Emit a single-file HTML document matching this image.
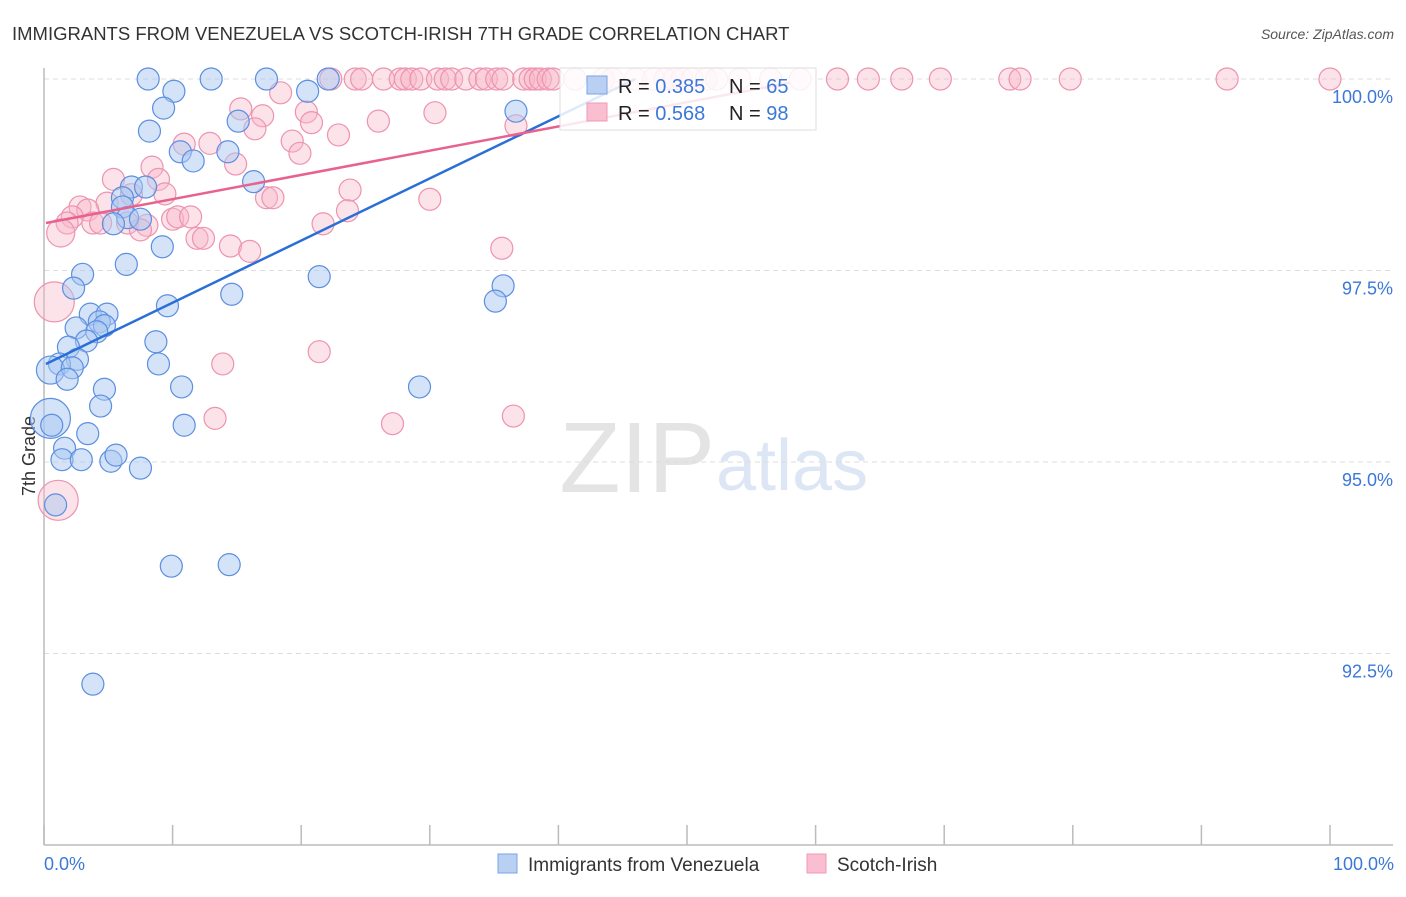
<!DOCTYPE html>
<html><head><meta charset="utf-8"><style>
body{margin:0;background:#fff;font-family:"Liberation Sans",sans-serif;}
svg text{font-family:"Liberation Sans",sans-serif;}
</style></head><body>
<svg width="1406" height="892" viewBox="0 0 1406 892">
<text x="12" y="40" font-size="18.5" fill="#333">IMMIGRANTS FROM VENEZUELA VS SCOTCH-IRISH 7TH GRADE CORRELATION CHART</text>
<text x="1394" y="39" font-size="14" fill="#555" font-style="italic" text-anchor="end">Source: ZipAtlas.com</text>
<text x="715" y="492" font-size="100" fill="#e4e4e4" text-anchor="end" font-family="Liberation Serif">ZIP</text>
<text x="716" y="490" font-size="72" fill="#dce6f5">atlas</text>
<g id="grid"></g>
<line x1="44" y1="68" x2="44" y2="845" stroke="#bbb" stroke-width="1.5"/>
<line x1="44" y1="845" x2="1393" y2="845" stroke="#bbb" stroke-width="1.5"/>
<text x="35" y="456" font-size="18" fill="#333" text-anchor="middle" transform="rotate(-90 35 456)">7th Grade</text>
<g id="pts"></g>
<g id="lines"></g>
<g>
<rect x="560" y="68" width="256" height="62" fill="#fff" fill-opacity="0.85" stroke="#ddd"/>
<rect x="587" y="76" width="20" height="18" fill="#b9d0f3" stroke="#7aa3e6"/>
<rect x="587" y="103" width="20" height="18" fill="#f9bfd0" stroke="#f09ab4"/>
<text x="618" y="93" font-size="20" fill="#222">R = <tspan fill="#3b78d8">0.385</tspan></text>
<text x="729" y="93" font-size="20" fill="#222">N = <tspan fill="#3b78d8">65</tspan></text>
<text x="618" y="120" font-size="20" fill="#222">R = <tspan fill="#3b78d8">0.568</tspan></text>
<text x="729" y="120" font-size="20" fill="#222">N = <tspan fill="#3b78d8">98</tspan></text>
</g>
<g>
<rect x="498" y="854" width="19" height="19" fill="#b9d0f3" stroke="#7aa3e6"/>
<text x="528" y="871" font-size="19" fill="#333">Immigrants from Venezuela</text>
<rect x="807" y="854" width="19" height="19" fill="#f9bfd0" stroke="#f09ab4"/>
<text x="837" y="871" font-size="19" fill="#333">Scotch-Irish</text>
</g>
<g id="ticks"></g>
</svg>
<script>
const yTicks=[100,97.5,95,92.5];
const yTickLabels=["100.0%","97.5%","95.0%","92.5%"];
const xTickLabels=["0.0%","100.0%"];
const blueX=[8.1,13.0,17.3,22.1,10.1,20.5,9.3,36.7,15.1,8.2,10.6,11.6,14.3,16.3,6.8,7.9,6.1,6.1,6.5,7.5,5.4,9.2,6.4,3.0,2.3,14.6,21.4,35.7,35.1,9.6,3.6,4.9,4.3,4.7,2.5,4.1,3.3,8.7,1.9,2.6,1.2,0.5,2.2,8.9,1.8,10.7,4.7,29.2,4.4,0.5,0.6,3.4,1.6,1.4,2.9,5.2,5.6,7.5,10.9,0.9,9.9,14.4,3.8];
const blueY=[100,100,100,100,99.84,99.84,99.62,99.58,99.45,99.32,99.05,98.93,99.05,98.66,98.59,98.59,98.45,98.33,98.19,98.17,98.11,97.81,97.58,97.45,97.27,97.19,97.42,97.30,97.10,97.04,96.93,96.93,96.83,96.78,96.75,96.70,96.58,96.57,96.50,96.34,96.28,96.20,96.23,96.28,96.08,95.98,95.95,95.98,95.73,95.57,95.48,95.37,95.18,95.03,95.03,95.01,95.09,94.92,95.48,94.44,93.64,93.66,92.10];
const blueBig=[0,0,0,0,0,0,0,0,0,0,0,0,0,0,0,0,0,0,0,0,0,0,0,0,0,0,0,0,0,0,0,0,0,0,0,0,0,0,0,0,0,1,0,0,0,0,0,0,0,2,0,0,0,0,0,0,0,0,0,0,0,0,0];
const pinkX=[22.3,24.2,24.7,26.4,27.7,28.1,28.6,29.3,30.6,31.2,31.7,32.8,33.9,34.4,35.2,35.7,37.3,37.8,38.2,38.6,39.2,39.6,41.3,43.5,44.2,46.0,47.4,48.3,49.0,49.6,50.4,51.5,52.3,54.1,56.5,58.8,61.7,64.1,66.7,69.7,75.1,75.9,79.8,92.0,100,
18.4,15.3,17.0,16.4,20.4,20.8,19.3,19.9,12.9,10.9,14.9,8.4,8.9,5.4,9.4,6.8,17.3,17.8,4.9,2.8,3.4,2.2,10.0,10.4,11.4,1.8,3.8,4.4,6.5,8.0,7.5,1.3,11.9,12.4,14.5,16.0,21.7,0.8,23.8,22.9,26.0,23.6,30.0,30.4,36.7,35.6,21.4,13.9,13.3,27.1,36.5,1.1];
const pinkY=[100,100,100,100,100,100,100,100,100,100,100,100,100,100,100,100,100,100,100,100,100,100,100,100,100,100,100,100,100,100,100,100,100,100,100,100,100,100,100,100,100,100,100,100,100,
99.82,99.61,99.52,99.35,99.57,99.43,99.19,99.03,99.16,99.15,98.89,98.85,98.69,98.69,98.50,98.49,98.45,98.45,98.38,98.33,98.29,98.20,98.17,98.20,98.20,98.12,98.12,98.12,98.12,98.09,98.03,97.99,97.92,97.92,97.82,97.75,98.11,97.09,98.55,99.27,99.45,98.28,98.43,99.56,99.39,97.79,96.44,96.28,95.57,95.50,95.60,94.50];
const pinkBig={76:1,82:2,96:2};
const blueTrend=[[0.15,96.28],[46,100]];
const pinkTrend=[[0.15,98.12],[58,99.95]];
const NS="http://www.w3.org/2000/svg";
const xs=v=>44+v*12.86, ys=v=>79+(100-v)*76.6;
const g=document.getElementById('grid'),tk=document.getElementById('ticks'),P=document.getElementById('pts'),L=document.getElementById('lines');
function mk(tag,at,par){const e=document.createElementNS(NS,tag);for(const k in at)e.setAttribute(k,at[k]);par.appendChild(e);return e;}
yTicks.forEach((t,i)=>{
 const l=mk('line',{x1:44,x2:1393,y1:ys(t),y2:ys(t),stroke:'#ddd','stroke-dasharray':'5,4'},g);
 
 
 const tx=mk('text',{x:1393,y:ys(t)+24,'font-size':18,fill:'#3b78d8','text-anchor':'end'},tk);tx.textContent=yTickLabels[i];
 
 
});
for(let i=0;i<=10;i++){const l=mk('line',{x1:xs(i*10),x2:xs(i*10),y1:825,y2:845,stroke:'#bbb','stroke-width':1.5},tk);
 
 }
[[0,'start',44],[1,'end',1394]].forEach(([i,a,x])=>{const t=mk('text',{x:x,y:870,'font-size':18,fill:'#3b78d8','text-anchor':a},tk);t.textContent=xTickLabels[i];
 
 });
pinkX.forEach((x,i)=>{const b=pinkBig[i]||0;const c=mk('circle',{cx:xs(x),cy:ys(pinkY[i]),r:b==2?20:b==1?14:11,fill:'#f7b6c9','fill-opacity':0.4,stroke:'#ee93b0','stroke-width':1.2},P);
 
 });
blueX.forEach((x,i)=>{const b=blueBig[i];const c=mk('circle',{cx:xs(x),cy:ys(blueY[i]),r:b==2?20:b==1?14:11,fill:'#a9c7f1','fill-opacity':0.5,stroke:'#5b8fe0','stroke-width':1.2},P);
 
 });
const bl=mk('line',{x1:xs(blueTrend[0][0]),y1:ys(blueTrend[0][1]),x2:xs(blueTrend[1][0]),y2:ys(blueTrend[1][1]),stroke:'#2a6fd6','stroke-width':2.5},L);


const pl=mk('line',{x1:xs(pinkTrend[0][0]),y1:ys(pinkTrend[0][1]),x2:xs(pinkTrend[1][0]),y2:ys(pinkTrend[1][1]),stroke:'#e8628f','stroke-width':2.5},L);


</script>
</body></html>
